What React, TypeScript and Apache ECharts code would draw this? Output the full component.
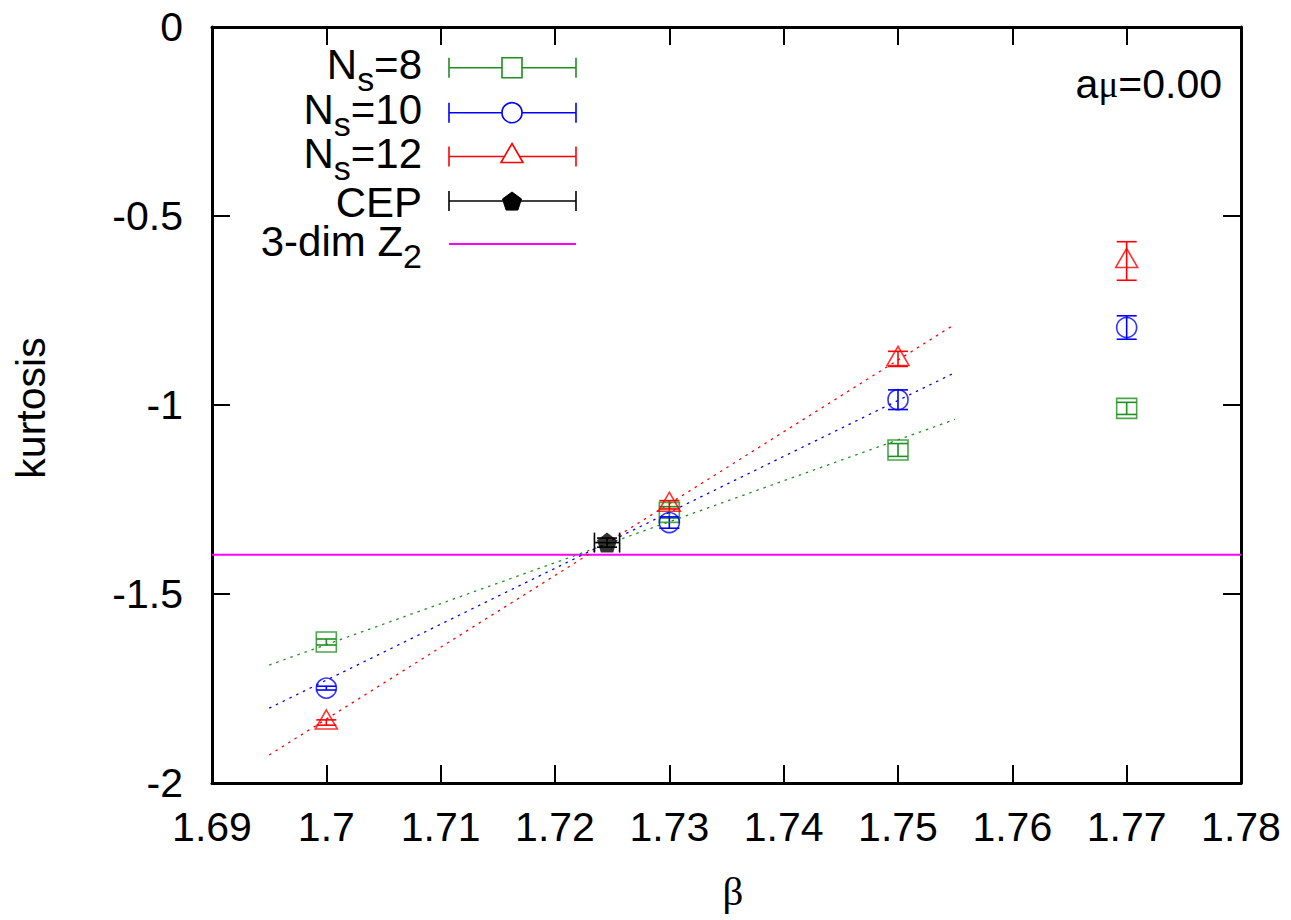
import React, { useEffect, useRef } from "react";
import * as echarts from "echarts";

// ---- data ----
const betaValues = [1.7, 1.73, 1.75, 1.77];
const ns8Values = [-1.627, -1.284, -1.119, -1.009];
const ns8Errors = [0.008, 0.015, 0.017, 0.016];
const ns10Values = [-1.749, -1.311, -0.986, -0.795];
const ns10Errors = [0.005, 0.015, 0.026, 0.031];
const ns12Values = [-1.84, -1.264, -0.878, -0.619];
const ns12Errors = [0.007, 0.011, 0.02, 0.051];
const cepPoint = [1.72455, -1.364];
const cepErrors = [0.0011, 0.012]; // [x error, y error]
const fitRange = [1.695, 1.755];
const fit8Ends = [-1.688, -1.038];
const fit10Ends = [-1.802, -0.914];
const fit12Ends = [-1.926, -0.786];
const z2Kurtosis = -1.396;
const xTicks = [1.69, 1.7, 1.71, 1.72, 1.73, 1.74, 1.75, 1.76, 1.77, 1.78];
const yTicks = [-2, -1.5, -1, -0.5, 0];
const legendLabels = ["{n|N}{s|s}{n|=8}", "{n|N}{s|s}{n|=10}", "{n|N}{s|s}{n|=12}", "{n|CEP}", "{n|3-dim Z}{s|2}"];

const GREEN = "#1f8f1f";
const BLUE = "#0000ff";
const RED = "#ff0000";
const BLACK = "#000000";
const MAGENTA = "#ff00ff";
const FONT = "'Liberation Sans', Arial, Helvetica, sans-serif";
const SERIF = "'Liberation Serif', 'DejaVu Serif', serif";

const PENTAGON = "path://M0,-1 L0.951,-0.309 L0.588,0.809 L-0.588,0.809 L-0.951,-0.309 Z";

function errorSeries(name: string, xs: number[], ys: number[], es: number[], color: string) {
  return {
    type: "custom",
    name: name + "-err",
    data: xs.map((x, i) => [x, ys[i], es[i]]),
    z: 3,
    renderItem: (params: any, api: any) => {
      const x = api.value(0);
      const y = api.value(1);
      const e = api.value(2);
      const t = api.coord([x, y + e]);
      const b = api.coord([x, y - e]);
      const hw = 10;
      const st = { stroke: color, lineWidth: 1.6 };
      return {
        type: "group",
        children: [
          { type: "line", shape: { x1: t[0], y1: t[1], x2: b[0], y2: b[1] }, style: st },
          { type: "line", shape: { x1: t[0] - hw, y1: t[1], x2: t[0] + hw, y2: t[1] }, style: st },
          { type: "line", shape: { x1: b[0] - hw, y1: b[1], x2: b[0] + hw, y2: b[1] }, style: st },
        ],
      };
    },
  };
}

function pointSeries(name: string, xs: number[], ys: number[], color: string, symbol: string, size: any, offset?: number[]) {
  return {
    type: "scatter",
    name,
    data: xs.map((x, i) => [x, ys[i]]),
    symbol,
    symbolSize: size,
    symbolOffset: offset || [0, 0],
    z: 4,
    itemStyle: { color: "rgba(0,0,0,0)", borderColor: color, borderWidth: 1.6 },
  };
}

function fitSeries(name: string, ends: number[], color: string) {
  return {
    type: "line",
    name,
    data: [
      [fitRange[0], ends[0]],
      [fitRange[1], ends[1]],
    ],
    symbol: "none",
    z: 2,
    lineStyle: { color, width: 1.3, type: [2.5, 5] },
  };
}

function pentagonPoints(cx: number, cy: number, r: number) {
  const pts: number[][] = [];
  for (let i = 0; i < 5; i++) {
    const a = -Math.PI / 2 + (i * 2 * Math.PI) / 5;
    pts.push([cx + r * Math.cos(a), cy + r * Math.sin(a)]);
  }
  return pts;
}

function legendGraphics() {
  const textRight = 422;
  const x1 = 449;
  const x2 = 576;
  const xm = 512;
  const rows = [67.7, 112.7, 156.5, 201, 244];
  const textY = [63, 108, 152, 201.5, 240];
  const rich = {
    n: { fontSize: 42, lineHeight: 40, verticalAlign: "top", fontFamily: FONT, fill: BLACK },
    s: { fontSize: 34, lineHeight: 8, verticalAlign: "top", padding: [19, 0, 0, 0], fontFamily: FONT, fill: BLACK },
  };
  const colors = [GREEN, BLUE, RED, BLACK, MAGENTA];
  const els: any[] = [];
  rows.forEach((ry, i) => {
    els.push({
      type: "text",
      x: textRight,
      y: textY[i],
      style: { text: legendLabels[i], align: "right", verticalAlign: "middle", rich, fontFamily: FONT, fontSize: 42 },
    });
    const st = { stroke: colors[i], lineWidth: 1.6 };
    els.push({ type: "line", shape: { x1, y1: ry, x2, y2: ry }, style: i === 4 ? { stroke: MAGENTA, lineWidth: 2 } : st });
    if (i < 4) {
      els.push({ type: "line", shape: { x1, y1: ry - 10, x2: x1, y2: ry + 10 }, style: st });
      els.push({ type: "line", shape: { x1: x2, y1: ry - 10, x2, y2: ry + 10 }, style: st });
    }
    if (i === 0) els.push({ type: "rect", shape: { x: xm - 10, y: ry - 10, width: 20, height: 20 }, style: { fill: "#fff", stroke: GREEN, lineWidth: 1.6 } });
    if (i === 1) els.push({ type: "circle", shape: { cx: xm, cy: ry, r: 10 }, style: { fill: "#fff", stroke: BLUE, lineWidth: 1.6 } });
    if (i === 2)
      els.push({
        type: "polygon",
        shape: { points: [[xm, ry - 13], [xm + 11, ry + 6], [xm - 11, ry + 6]] },
        style: { fill: "#fff", stroke: RED, lineWidth: 1.6 },
      });
    if (i === 3) els.push({ type: "polygon", shape: { points: pentagonPoints(xm, ry + 1, 10) }, style: { fill: BLACK, stroke: BLACK } });
  });
  return els;
}

export default function App() {
  const ref = useRef<HTMLDivElement>(null);
  useEffect(() => {
    if (!ref.current) return;
    const chart = echarts.init(ref.current, undefined, { renderer: "svg" });
    const axisCommon = {
      type: "value",
      axisLine: { show: true, onZero: false, lineStyle: { color: BLACK, width: 3 } },
      axisTick: { show: true, inside: true, length: 18, lineStyle: { color: BLACK, width: 2 } },
      splitLine: { show: false },
    };
    const xFmt = (v: number) => String(parseFloat(v.toFixed(2)));
    const yFmt = (v: number) => String(parseFloat(v.toFixed(1)));
    const option: any = {
      animation: false,
      backgroundColor: "#ffffff",
      grid: { left: 212, right: 50, top: 27, bottom: 137, containLabel: false },
      xAxis: [
        {
          ...axisCommon,
          position: "bottom",
          min: xTicks[0],
          max: xTicks[xTicks.length - 1],
          interval: 0.01,
          axisLabel: { show: true, formatter: xFmt, fontSize: 41, color: BLACK, fontFamily: FONT, margin: 23 },
        },
        {
          ...axisCommon,
          position: "top",
          min: xTicks[0],
          max: xTicks[xTicks.length - 1],
          interval: 0.01,
          axisLabel: { show: false },
        },
      ],
      yAxis: [
        {
          ...axisCommon,
          position: "left",
          min: yTicks[0],
          max: yTicks[yTicks.length - 1],
          interval: 0.5,
          axisLabel: { show: true, formatter: yFmt, fontSize: 41, color: BLACK, fontFamily: FONT, margin: 29 },
        },
        {
          ...axisCommon,
          position: "right",
          min: yTicks[0],
          max: yTicks[yTicks.length - 1],
          interval: 0.5,
          axisLabel: { show: false },
        },
      ],
      series: [
        {
          type: "line",
          name: "3-dim Z2",
          data: [
            [xTicks[0], z2Kurtosis],
            [xTicks[xTicks.length - 1], z2Kurtosis],
          ],
          symbol: "none",
          z: 1,
          lineStyle: { color: MAGENTA, width: 2 },
        },
        fitSeries("fit8", fit8Ends, GREEN),
        fitSeries("fit10", fit10Ends, BLUE),
        fitSeries("fit12", fit12Ends, RED),
        errorSeries("Ns=8", betaValues, ns8Values, ns8Errors, GREEN),
        errorSeries("Ns=10", betaValues, ns10Values, ns10Errors, BLUE),
        errorSeries("Ns=12", betaValues, ns12Values, ns12Errors, RED),
        pointSeries("Ns=8", betaValues, ns8Values, GREEN, "rect", 20),
        pointSeries("Ns=10", betaValues, ns10Values, BLUE, "circle", 20),
        pointSeries("Ns=12", betaValues, ns12Values, RED, "triangle", [22, 19], [0, -3]),
        {
          type: "custom",
          name: "CEP-err",
          data: [[cepPoint[0], cepPoint[1], cepErrors[0], cepErrors[1]]],
          z: 5,
          renderItem: (params: any, api: any) => {
            const x = api.value(0);
            const y = api.value(1);
            const ex = api.value(2);
            const ey = api.value(3);
            const l = api.coord([x - ex, y]);
            const r = api.coord([x + ex, y]);
            const t = api.coord([x, y + ey]);
            const b = api.coord([x, y - ey]);
            const st = { stroke: BLACK, lineWidth: 1.6 };
            const h = 10;
            return {
              type: "group",
              children: [
                { type: "line", shape: { x1: l[0], y1: l[1], x2: r[0], y2: r[1] }, style: st },
                { type: "line", shape: { x1: l[0], y1: l[1] - h, x2: l[0], y2: l[1] + h }, style: st },
                { type: "line", shape: { x1: r[0], y1: r[1] - h, x2: r[0], y2: r[1] + h }, style: st },
                { type: "line", shape: { x1: t[0], y1: t[1], x2: b[0], y2: b[1] }, style: st },
                { type: "line", shape: { x1: t[0] - h, y1: t[1], x2: t[0] + h, y2: t[1] }, style: st },
                { type: "line", shape: { x1: b[0] - h, y1: b[1], x2: b[0] + h, y2: b[1] }, style: st },
              ],
            };
          },
        },
        {
          type: "scatter",
          name: "CEP",
          data: [[cepPoint[0], cepPoint[1]]],
          symbol: PENTAGON,
          symbolSize: 20,
          z: 6,
          itemStyle: { color: BLACK },
        },
      ],
      graphic: [
        ...legendGraphics(),
        {
          type: "text",
          x: 1222,
          y: 84,
          style: {
            text: "{a|a}{m|μ}{a|=0.00}",
            align: "right",
            verticalAlign: "middle",
            rich: {
              a: { fontSize: 41, fontFamily: FONT, fill: BLACK },
              m: { fontSize: 37, fontFamily: SERIF, fill: BLACK },
            },
          },
        },
        {
          type: "text",
          x: 31,
          y: 408,
          rotation: Math.PI / 2,
          style: { text: "kurtosis", align: "center", verticalAlign: "middle", fontSize: 41, fontFamily: FONT, fill: BLACK },
        },
        {
          type: "text",
          x: 733,
          y: 891,
          style: { text: "β", align: "center", verticalAlign: "middle", fontSize: 41, fontFamily: SERIF, fill: BLACK },
        },
      ],
    };
    chart.setOption(option);
    return () => chart.dispose();
  }, []);
  return <div ref={ref} style={{ position: "absolute", left: 0, top: 0, width: 1291, height: 920 }} />;
}
